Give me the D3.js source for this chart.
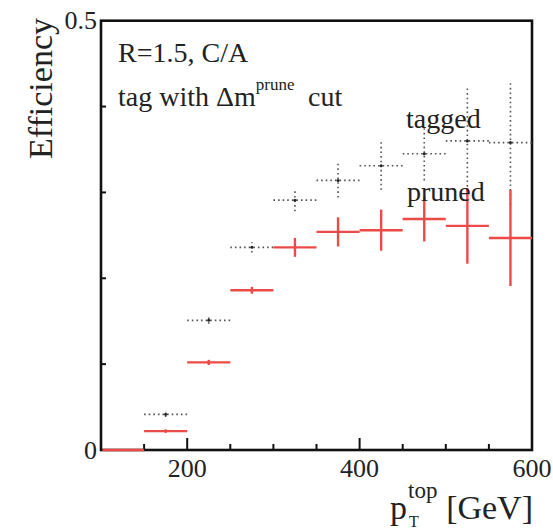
<!DOCTYPE html>
<html>
<head>
<meta charset="utf-8">
<script src="https://cdn.jsdelivr.net/npm/d3@7"></script>
<style>
  html, body { margin: 0; padding: 0; background: #fff; }
  svg { display: block; }
  text { font-family: "Liberation Serif", "Times New Roman", serif; fill: #222; }
</style>
</head>
<body>
<svg id="chart" width="553" height="532"></svg>
<script>
// Top-quark pT bins [GeV]
const binLow  = [100, 150, 200, 250, 300, 350, 400, 450, 500, 550];
const binHigh = [150, 200, 250, 300, 350, 400, 450, 500, 550, 600];

// Tagging efficiency, plain tag
const tagged    = [0.000, 0.0415, 0.151, 0.236, 0.291, 0.314, 0.331, 0.345, 0.360, 0.358];
const taggedErr = [0.000, 0.003, 0.004, 0.006, 0.013, 0.020, 0.028, 0.031, 0.064, 0.072];

// Tagging efficiency, pruned mass window
const pruned    = [0.000, 0.022, 0.102, 0.186, 0.236, 0.254, 0.256, 0.269, 0.261, 0.247];
const prunedErr = [0.000, 0.002, 0.003, 0.004, 0.011, 0.017, 0.024, 0.026, 0.044, 0.056];

const xTickLabels = [200, 400, 600];
const yTickLabels = [0, 0.5];

const svg = d3.select("#chart");
const x = d3.scaleLinear().domain([100, 600]).range([101, 532]);
const y = d3.scaleLinear().domain([0, 0.5]).range([450, 20.7]);

// ticks (inward)
const minorX = d3.range(150, 600, 50).filter(v => v % 200 !== 0);
const majorX = [200, 400];
const g = svg.append("g");
g.selectAll("line.xmin").data(minorX).join("line")
  .attr("x1", d => x(d)).attr("x2", d => x(d))
  .attr("y1", y(0)).attr("y2", y(0) - 6)
  .attr("stroke", "#111").attr("stroke-width", 2);
g.selectAll("line.xmaj").data(majorX).join("line")
  .attr("x1", d => x(d)).attr("x2", d => x(d))
  .attr("y1", y(0)).attr("y2", y(0) - 12)
  .attr("stroke", "#111").attr("stroke-width", 2);
g.selectAll("line.ymin").data([0.1, 0.2, 0.3, 0.4]).join("line")
  .attr("x1", x(100)).attr("x2", x(100) + 5)
  .attr("y1", d => y(d)).attr("y2", d => y(d))
  .attr("stroke", "#111").attr("stroke-width", 2);

// frame
svg.append("rect")
  .attr("x", x(100)).attr("y", y(0.5))
  .attr("width", x(600) - x(100)).attr("height", y(0) - y(0.5))
  .attr("fill", "none").attr("stroke", "#111").attr("stroke-width", 2.6);

// tagged: dotted error crosses
const tg = svg.append("g");
tagged.forEach((v, i) => {
  if (i === 0) return;
  const cx = x((binLow[i] + binHigh[i]) / 2);
  tg.append("line")
    .attr("x1", x(binLow[i])).attr("x2", x(binHigh[i]))
    .attr("y1", y(v)).attr("y2", y(v))
    .attr("stroke", "#555").attr("stroke-width", 1.6)
    .attr("stroke-dasharray", "1.6,3");
  tg.append("line")
    .attr("x1", cx).attr("x2", cx)
    .attr("y1", y(v - taggedErr[i])).attr("y2", y(v + taggedErr[i]))
    .attr("stroke", "#555").attr("stroke-width", 1.6)
    .attr("stroke-dasharray", "1.6,3");
  tg.append("circle").attr("cx", cx).attr("cy", y(v)).attr("r", 1.5).attr("fill", "#222");
});

// pruned: solid red error crosses
const pg = svg.append("g");
pruned.forEach((v, i) => {
  const cx = x((binLow[i] + binHigh[i]) / 2);
  pg.append("line")
    .attr("x1", x(binLow[i]) + (i === 0 ? 1.5 : 0)).attr("x2", x(binHigh[i]))
    .attr("y1", y(v)).attr("y2", y(v))
    .attr("stroke", "#ec4a47").attr("stroke-width", 2.4);
  if (prunedErr[i] > 0) {
    pg.append("line")
      .attr("x1", cx).attr("x2", cx)
      .attr("y1", y(v - prunedErr[i])).attr("y2", y(v + prunedErr[i]))
      .attr("stroke", "#ec4a47").attr("stroke-width", 2.4);
  }
});

// axis labels
svg.selectAll("text.yt").data(yTickLabels).join("text")
  .attr("x", 97).attr("y", d => y(d) + 8.5)
  .attr("text-anchor", "end").attr("font-size", 26)
  .text(d => d === 0 ? "0" : d);
svg.selectAll("text.xt").data(xTickLabels).join("text")
  .attr("x", d => x(d)).attr("y", 477)
  .attr("text-anchor", "middle").attr("font-size", 26)
  .text(d => d);

svg.append("text")
  .attr("transform", "translate(52,18) rotate(-90)")
  .attr("text-anchor", "end").attr("font-size", 34)
  .text("Efficiency");

// x title: p_T^top [GeV]
svg.append("text").attr("x", 390).attr("y", 519).attr("font-size", 34).text("p");
svg.append("text").attr("x", 408).attr("y", 498).attr("font-size", 23).text("top");
svg.append("text").attr("x", 409).attr("y", 527).attr("font-size", 16).text("T");
svg.append("text").attr("x", 533).attr("y", 519).attr("text-anchor", "end").attr("font-size", 34).text("[GeV]");

// annotations
svg.append("text").attr("x", 118).attr("y", 62).attr("font-size", 28).text("R=1.5, C/A");
const t2 = svg.append("text").attr("x", 118).attr("y", 106).attr("font-size", 28);
t2.append("tspan").text("tag with Δm");
t2.append("tspan").attr("font-size", 17).attr("dy", -16).text("prune");
t2.append("tspan").attr("x", 308).attr("dy", 16).text("cut");

svg.append("text").attr("x", 406).attr("y", 128).attr("font-size", 28).text("tagged");
svg.append("text").attr("x", 407).attr("y", 201).attr("font-size", 28).text("pruned");
</script>
</body>
</html>
